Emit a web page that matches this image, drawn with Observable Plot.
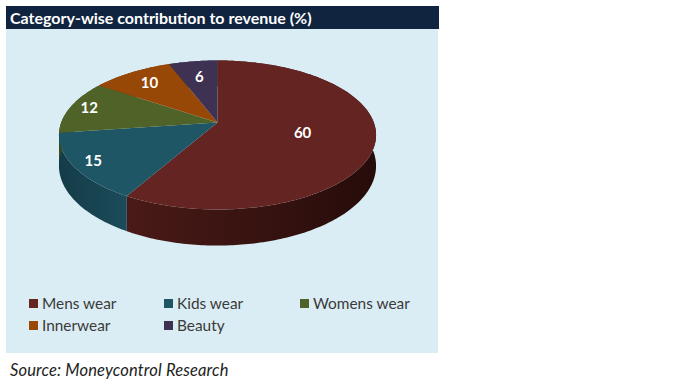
<!DOCTYPE html>
<html><head><meta charset="utf-8">
<script src="https://cdn.jsdelivr.net/npm/d3@7"></script>
<script src="https://cdn.jsdelivr.net/npm/@observablehq/plot@0.6"></script>
<style>
html,body{margin:0;padding:0;background:#fff;width:681px;height:382px;overflow:hidden;font-family:Lato,"Open Sans",sans-serif}
#title{position:absolute;left:6px;top:6px;width:433px;height:23px;background:#10243f;color:#fff;font-weight:700;font-size:16px;line-height:23px;text-indent:4px;white-space:nowrap}
#chart{position:absolute;left:6px;top:29px;width:432px;height:324px;background:#daedf4}
#chart svg{display:block;background:transparent}
.lg{position:absolute;font-size:15.4px;line-height:18px;color:#3a3a3a;white-space:nowrap}
.sw{position:absolute;width:9px;height:9px}
#source{position:absolute;left:10px;top:361px;font-style:italic;font-size:16.5px;line-height:18px;letter-spacing:.15px;color:#222;white-space:nowrap}
</style></head>
<body>
<div id="title">Category-wise contribution to revenue (%)</div>
<div id="chart"></div>
<div id="source">Source: Moneycontrol Research</div>
<script>
const categories = ["Mens wear", "Kids wear", "Womens wear", "Innerwear", "Beauty"];
const values = [60, 15, 12, 10, 6];
const faceColors = ["#642522", "#1f5666", "#4f6228", "#974806", "#3f3151"];
const sideDark = ["#260c0a", "#143c48", "#3a4a1c", "#6e3404", "#2c2239"];
const sideLight = ["#4a1a17", "#1c4b59", "#42541f", "#7e3c05", "#352a45"];

// pie geometry in panel pixels (perspective view of a flat disc)
const cx = 211, cy = 93, rx = 156.3, ry = 72.4, k = 0.1678, depth = 30;
const labelRadius = [0.55, 0.88, 0.87, 0.77, 0.71];
const project = (a, r = 1, d = 0) => {
  const u = Math.sin(a) * r, v = -Math.cos(a) * r, w = 1 - k * v;
  return {x: cx + rx * u / w, y: cy + (ry * v + d) / w};
};
const slices = d3.pie().sort(null)(values).map((s, i) => ({...s, category: categories[i], i}));
const arc = (s, d) => {
  const n = Math.ceil((s.endAngle - s.startAngle) * 60), out = [];
  for (let j = 0; j <= n; j++) out.push(project(s.startAngle + (s.endAngle - s.startAngle) * j / n, 1, d));
  return out;
};
const facePts = slices.flatMap(s => [project(0, 0), ...arc(s, 0)].map(p => ({...p, category: s.category})));
const labels = slices.map(s => ({...project((s.startAngle + s.endAngle) / 2, labelRadius[s.i]), text: String(s.value)}));
const sideMarks = slices.map(s => Plot.line(
  [...arc(s, 0), ...arc(s, depth).reverse()],
  {x: "x", y: "y", fill: `url(#side${s.i})`, stroke: "none"}
));
const defs = () => {
  const g = d3.create("svg:defs");
  slices.forEach(s => {
    const pts = arc(s, 0), x0 = d3.min(pts, p => p.x), x1 = d3.max(pts, p => p.x);
    const lg = g.append("linearGradient").attr("id", `side${s.i}`)
      .attr("gradientUnits", "userSpaceOnUse").attr("x1", x0).attr("x2", x1).attr("y1", 0).attr("y2", 0);
    lg.append("stop").attr("offset", 0).attr("stop-color", s.i === 0 ? sideLight[s.i] : sideDark[s.i]);
    lg.append("stop").attr("offset", 1).attr("stop-color", s.i === 0 ? sideDark[s.i] : sideLight[s.i]);
  });
  return g.node();
};
const plot = Plot.plot({
  width: 432, height: 324, margin: 0,
  x: {domain: [0, 432], range: [0, 432], axis: null},
  y: {domain: [0, 324], range: [0, 324], axis: null},
  color: {domain: categories, range: faceColors},
  style: {background: "transparent"},
  marks: [
    defs,
    ...sideMarks,
    Plot.line(facePts, {x: "x", y: "y", z: "category", fill: "category", stroke: "none"}),
    Plot.text(labels, {x: "x", y: "y", text: "text", fill: "white", fontWeight: 700, fontSize: 15, fontFamily: "Lato"})
  ]
});
document.getElementById("chart").append(plot);
// legend
const legendCols = [29, 164, 300], legendRows = [303, 325];
categories.forEach((c, i) => {
  const X = legendCols[i % 3], Y = legendRows[Math.floor(i / 3)];
  const sw = document.createElement("div"); sw.className = "sw";
  sw.style.cssText = `left:${X}px;top:${Y - 4}px;background:${faceColors[i]}`;
  const t = document.createElement("div"); t.className = "lg"; t.textContent = c;
  t.style.cssText = `left:${X + 13}px;top:${Y - 9}px`;
  document.body.append(sw, t);
});
</script>
</body></html>
